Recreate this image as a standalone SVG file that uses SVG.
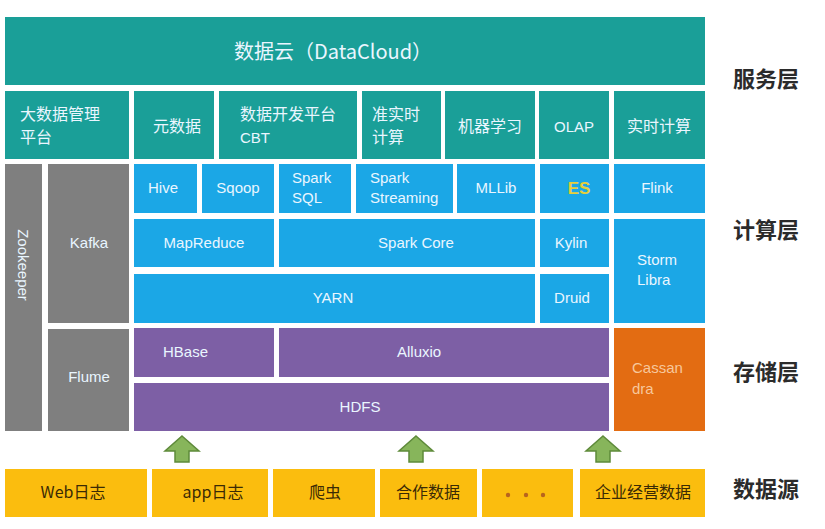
<svg xmlns="http://www.w3.org/2000/svg" width="825" height="529" viewBox="0 0 825 529">
<defs>
<style>
.t{font-family:"Liberation Sans","Noto Sans CJK SC",sans-serif;font-size:15px;fill:#eaf6ff}
.c{text-anchor:middle}
.cn{font-family:"Noto Sans CJK SC",sans-serif;font-size:16px}
.teal{fill:#1a9f98}
.blue{fill:#1ba7e6}
.gray{fill:#7f7f7f}
.purple{fill:#7d5fa5}
.orange{fill:#e36c12}
.yellow{fill:#fbbd0e}
.yt{font-family:"Noto Sans CJK SC",sans-serif;font-size:16px;fill:#3a2a05;text-anchor:middle}
.layer{font-family:"Noto Sans CJK SC",sans-serif;font-size:22px;font-weight:bold;fill:#2b2b2b}
.arrow{fill:#87b55b;stroke:#5e8a3a;stroke-width:1.5}
</style>
</defs>
<rect width="825" height="529" fill="#ffffff"/>

<g id="datacloud"><rect class="teal" x="5" y="17" width="700" height="68"/><text class="t c cn" x="333" y="59" style="font-size:20px">数据云（DataCloud）</text></g>

<g id="bdmp"><rect class="teal" x="5" y="91" width="124" height="68"/><text class="t cn" x="20" y="120">大数据管理</text><text class="t cn" x="20" y="143">平台</text></g>
<g id="metadata"><rect class="teal" x="134" y="91" width="80" height="68"/><text class="t c cn" x="177" y="132">元数据</text></g>
<g id="cbt"><rect class="teal" x="219" y="91" width="138" height="68"/><text class="t cn" x="240" y="120">数据开发平台</text><text class="t" x="240" y="143">CBT</text></g>
<g id="nrt"><rect class="teal" x="362" y="91" width="79" height="68"/><text class="t cn" x="372" y="120">准实时</text><text class="t cn" x="372" y="143">计算</text></g>
<g id="ml"><rect class="teal" x="445" y="91" width="90" height="68"/><text class="t c cn" x="490" y="132">机器学习</text></g>
<g id="olap"><rect class="teal" x="539" y="91" width="70" height="68"/><text class="t c" x="574" y="132">OLAP</text></g>
<g id="rt"><rect class="teal" x="614" y="91" width="91" height="68"/><text class="t c cn" x="659" y="132">实时计算</text></g>

<g id="zookeeper"><rect class="gray" x="5" y="164" width="37" height="267"/><text class="t c" transform="translate(18 265) rotate(90)">Zookeeper</text></g>
<g id="kafka"><rect class="gray" x="48" y="164" width="81" height="159"/><text class="t c" x="89" y="248">Kafka</text></g>
<g id="flume"><rect class="gray" x="48" y="329" width="81" height="102"/><text class="t c" x="89" y="382">Flume</text></g>

<g id="hive"><rect class="blue" x="134" y="164" width="63" height="49"/><text class="t c" x="163" y="193">Hive</text></g>
<g id="sqoop"><rect class="blue" x="202" y="164" width="72" height="49"/><text class="t c" x="238" y="193">Sqoop</text></g>
<g id="sparksql"><rect class="blue" x="279" y="164" width="72" height="49"/><text class="t" x="292" y="183">Spark</text><text class="t" x="292" y="203">SQL</text></g>
<g id="sparkstreaming"><rect class="blue" x="356" y="164" width="97" height="49"/><text class="t" x="370" y="183">Spark</text><text class="t" x="370" y="203">Streaming</text></g>
<g id="mllib"><rect class="blue" x="457" y="164" width="78" height="49"/><text class="t c" x="496" y="193">MLLib</text></g>
<g id="es"><rect class="blue" x="540" y="164" width="69" height="49"/><text class="t c" x="579" y="194" style="fill:#e8cf3a;font-weight:bold;font-size:17px">ES</text></g>
<g id="flink"><rect class="blue" x="614" y="164" width="91" height="49"/><text class="t c" x="657" y="193">Flink</text></g>

<g id="mapreduce"><rect class="blue" x="134" y="219" width="140" height="48"/><text class="t c" x="204" y="248">MapReduce</text></g>
<g id="sparkcore"><rect class="blue" x="279" y="219" width="256" height="48"/><text class="t c" x="416" y="248">Spark Core</text></g>
<g id="kylin"><rect class="blue" x="540" y="219" width="69" height="48"/><text class="t c" x="571" y="248">Kylin</text></g>
<g id="storm"><rect class="blue" x="614" y="219" width="91" height="104"/><text class="t" x="637" y="265">Storm</text><text class="t" x="637" y="285">Libra</text></g>

<g id="yarn"><rect class="blue" x="134" y="274" width="401" height="49"/><text class="t c" x="333" y="303">YARN</text></g>
<g id="druid"><rect class="blue" x="540" y="274" width="69" height="49"/><text class="t c" x="572" y="303">Druid</text></g>

<g id="hbase"><rect class="purple" x="134" y="328" width="140" height="49"/><text class="t" x="163" y="357">HBase</text></g>
<g id="alluxio"><rect class="purple" x="279" y="328" width="330" height="49"/><text class="t" x="397" y="357">Alluxio</text></g>
<g id="hdfs"><rect class="purple" x="134" y="383" width="475" height="48"/><text class="t c" x="360" y="412">HDFS</text></g>
<g id="cassandra"><rect class="orange" x="614" y="328" width="91" height="103"/><text class="t" x="632" y="373" style="fill:#f7c79c">Cassan</text><text class="t" x="632" y="394" style="fill:#f7c79c">dra</text></g>

<g id="connectors">
<polygon class="arrow" points="182,436 199,451 189,451 189,462 175,462 175,451 165,451"/>
<polygon class="arrow" points="416,436 433,451 423,451 423,462 409,462 409,451 399,451"/>
<polygon class="arrow" points="603,436 620,451 610,451 610,462 596,462 596,451 586,451"/>
</g>

<g id="weblog"><rect class="yellow" x="5" y="469" width="142" height="48"/><text class="yt" x="73" y="498">Web日志</text></g>
<g id="applog"><rect class="yellow" x="152" y="469" width="116" height="48"/><text class="yt" x="213" y="498">app日志</text></g>
<g id="crawler"><rect class="yellow" x="273" y="469" width="102" height="48"/><text class="yt" x="325" y="498">爬虫</text></g>
<g id="partner"><rect class="yellow" x="380" y="469" width="97" height="48"/><text class="yt" x="428" y="498">合作数据</text></g>
<g id="more"><rect class="yellow" x="482" y="469" width="91" height="48"/><circle cx="508" cy="495" r="2.2" fill="#b8641e"/><circle cx="526" cy="495" r="2.2" fill="#b8641e"/><circle cx="543" cy="495" r="2.2" fill="#b8641e"/></g>
<g id="enterprise"><rect class="yellow" x="580" y="469" width="125" height="48"/><text class="yt" x="643" y="498">企业经营数据</text></g>

<g id="layers">
<text class="layer" x="733" y="87">服务层</text>
<text class="layer" x="733" y="238">计算层</text>
<text class="layer" x="733" y="380">存储层</text>
<text class="layer" x="733" y="497">数据源</text>
</g>
</svg>
